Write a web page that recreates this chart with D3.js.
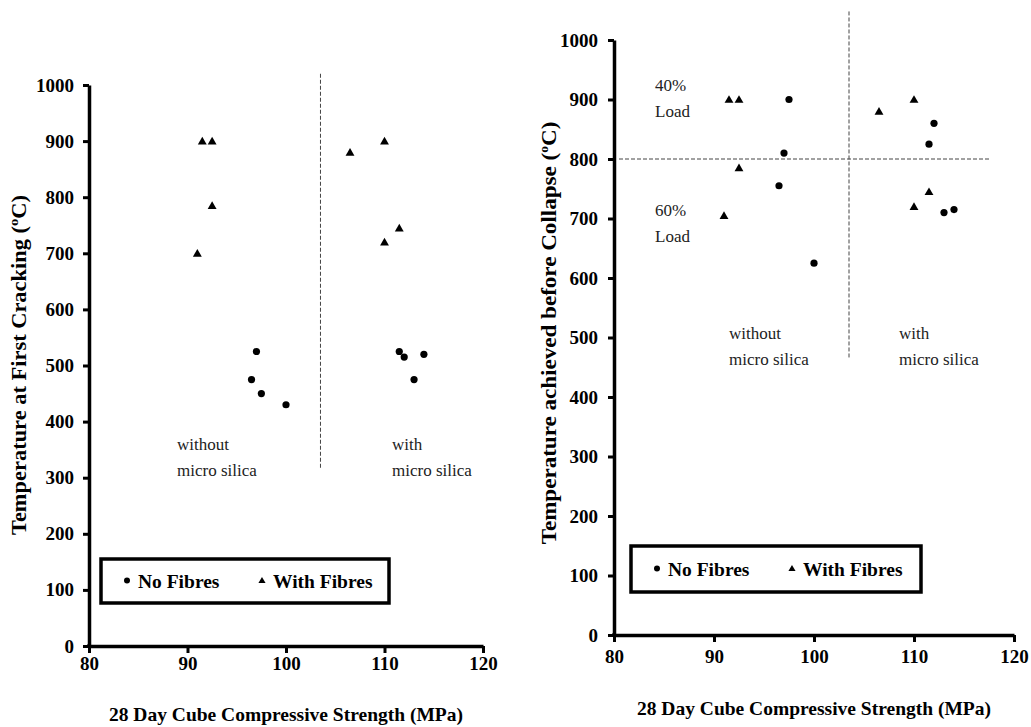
<!DOCTYPE html>
<html>
<head>
<meta charset="utf-8">
<script src="https://cdn.jsdelivr.net/npm/d3@7"></script>
<style>
  body { margin: 0; background: #fff; }
  svg { display: block; }
  svg text { font-family: "Liberation Serif", "Times New Roman", serif; fill: #000; }
</style>
</head>
<body>
<div id="chart"></div>
<script>
// --- Data (strength in MPa, temperature in °C) ---
const xTicks = [80, 90, 100, 110, 120];
const yTicks = [0, 100, 200, 300, 400, 500, 600, 700, 800, 900, 1000];

// left chart: temperature at first cracking
const crackNoFibres = [[97, 525], [96.5, 475], [97.5, 450], [100, 430],
                       [111.5, 525], [112, 515], [114, 520], [113, 475]];
const crackWithFibres = [[91.5, 900], [92.5, 900], [92.5, 785], [91, 700],
                         [106.5, 880], [110, 900], [111.5, 745], [110, 720]];

// right chart: temperature achieved before collapse
const collapseNoFibres = [[97.5, 900], [97, 810], [96.5, 755], [100, 625],
                          [112, 860], [111.5, 825], [113, 710], [114, 715]];
const collapseWithFibres = [[91.5, 900], [92.5, 900], [92.5, 785], [91, 705],
                            [106.5, 880], [110, 900], [111.5, 745], [110, 720]];

const legendLabels = ["No Fibres", "With Fibres"];
const xTitle = "28 Day Cube Compressive Strength (MPa)";

const W = 1031, H = 727;
const svg = d3.select("#chart").append("svg").attr("width", W).attr("height", H);

function drawPanel(p) {
  const x = d3.scaleLinear().domain([80, 120]).range(p.xr);
  const y = d3.scaleLinear().domain([0, 1000]).range(p.yr);
  const g = svg.append("g");

  // --- axes ---
  const ya = g.append("g")
    .attr("transform", `translate(${p.xr[0]},0)`)
    .call(d3.axisLeft(y).tickValues(yTicks).tickFormat(d3.format("d"))
      .tickSize(6).tickSizeOuter(0).tickPadding(p.yPad));
  const xa = g.append("g")
    .attr("transform", `translate(0,${p.yr[0]})`)
    .call(d3.axisBottom(x).tickValues(xTicks).tickFormat(d3.format("d"))
      .tickSize(7).tickSizeOuter(0));
  [ya, xa].forEach(a => {
    a.attr("font-family", null);
    a.select(".domain").attr("stroke-width", 3.5);
    a.selectAll(".tick line").attr("stroke-width", 3);
    a.selectAll("text").style("font-size", "19px").style("font-weight", "bold");
  });
  xa.selectAll("text").attr("y", p.xLabY).attr("dy", null);
  // square off corner
  g.append("rect").attr("x", p.xr[0] - 1.75).attr("y", p.yr[0] - 1.75)
    .attr("width", 3.5).attr("height", 3.5);

  // --- dashed guide lines ---
  p.guides.forEach(l => {
    g.append("line")
      .attr("x1", x(l[0])).attr("y1", y(l[1]))
      .attr("x2", x(l[2])).attr("y2", y(l[3]))
      .attr("stroke", "#444").attr("stroke-width", 1)
      .attr("stroke-dasharray", "4,2");
  });

  // --- annotations ---
  p.notes.forEach(n => {
    const t = g.append("text").attr("x", n.x).attr("y", n.y)
      .style("font-size", "17px").style("fill", "#222");
    n.lines.forEach((s, i) => t.append("tspan").attr("x", n.x).attr("dy", i ? 26 : 0).text(s));
  });

  // --- points ---
  g.selectAll(".dot").data(p.noFibres).enter().append("circle")
    .attr("class", "dot")
    .attr("cx", d => x(d[0])).attr("cy", d => y(d[1]))
    .attr("r", 3.6);
  const tri = d3.symbol().type(d3.symbolTriangle).size(34);
  g.selectAll(".tri").data(p.withFibres).enter().append("path")
    .attr("class", "tri")
    .attr("transform", d => `translate(${x(d[0])},${y(d[1]) + 0.8})`)
    .attr("d", tri);

  // --- legend ---
  const lg = g.append("g").attr("transform", `translate(${p.leg[0]},${p.leg[1]})`);
  lg.append("rect").attr("width", p.leg[2]).attr("height", p.leg[3])
    .attr("fill", "#fff").attr("stroke", "#000").attr("stroke-width", 3.5);
  const cy = p.leg[3] / 2;
  lg.append("circle").attr("cx", 26).attr("cy", cy - 0.5).attr("r", 3);
  lg.append("text").attr("x", 37).attr("y", cy + 7)
    .style("font-size", "19.5px").style("font-weight", "bold").text(legendLabels[0]);
  lg.append("path").attr("transform", `translate(${161},${cy})`)
    .attr("d", d3.symbol().type(d3.symbolTriangle).size(22));
  lg.append("text").attr("x", 172).attr("y", cy + 7)
    .style("font-size", "19.5px").style("font-weight", "bold").text(legendLabels[1]);

  // --- axis titles ---
  g.append("text").attr("x", (p.xr[0] + p.xr[1]) / 2).attr("y", p.xTitleY)
    .attr("text-anchor", "middle")
    .style("font-size", "19.5px").style("font-weight", "bold").text(xTitle);
  const yt = g.append("text")
    .attr("text-anchor", "middle")
    .style("font-size", p.yTitle[2] + "px").style("font-weight", "bold");
  yt.append("tspan").text(p.yLabel + " (");
  yt.append("tspan").attr("dy", -8).style("font-size", "13px").text("o");
  yt.append("tspan").attr("dy", 8).text("C)");
  const sx = p.yTitle[3] / yt.node().getComputedTextLength();
  yt.attr("transform", `translate(${p.yTitle[0]},${p.yTitle[1]}) rotate(-90) scale(${sx},1)`);
}

drawPanel({
  xr: [89, 483], yr: [646, 85], yPad: 9, xLabY: 24,
  noFibres: crackNoFibres, withFibres: crackWithFibres,
  guides: [[103.5, 1020, 103.5, 315]],
  notes: [
    { x: 177, y: 450, lines: ["without", "micro silica"] },
    { x: 392, y: 450, lines: ["with", "micro silica"] }
  ],
  leg: [101, 559, 288, 44],
  xTitleY: 721,
  yTitle: [26, 365, 20, 340], yLabel: "Temperature at First Cracking"
});

drawPanel({
  xr: [614, 1014], yr: [635, 40], yPad: 10, xLabY: 28,
  noFibres: collapseNoFibres, withFibres: collapseWithFibres,
  guides: [[103.5, 1048, 103.5, 466], [80.5, 800, 117.5, 800]],
  notes: [
    { x: 655, y: 91, lines: ["40%", "Load"] },
    { x: 655, y: 216, lines: ["60%", "Load"] },
    { x: 729, y: 339, lines: ["without", "micro silica"] },
    { x: 899, y: 339, lines: ["with", "micro silica"] }
  ],
  leg: [631, 546, 290, 46],
  xTitleY: 715,
  yTitle: [556, 333, 22, 423], yLabel: "Temperature achieved before Collapse"
});
</script>
</body>
</html>
